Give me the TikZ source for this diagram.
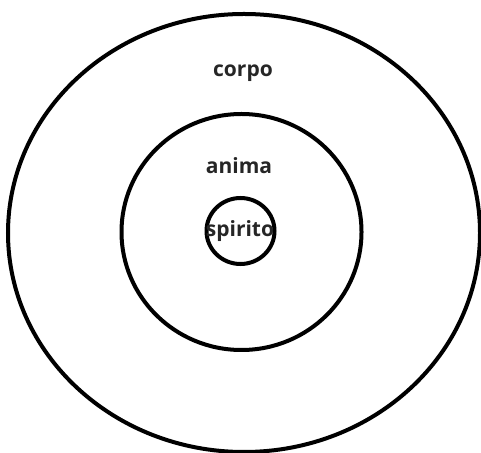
\documentclass[tikz,border=0pt]{standalone}
\usepackage{fontspec}
\setmainfont{Open Sans}
\begin{document}
\begin{tikzpicture}[x=1pt,y=1pt,
  ring/.style={draw=black,line width=4pt},
  lbl/.style={font=\bfseries\fontsize{21}{25}\selectfont,text=black!85,inner sep=0pt}]
\useasboundingbox (0,0) rectangle (481,452);
\fill[white] (0,0) rectangle (481,452);
\draw[ring] (244,219) ellipse [x radius=236,y radius=219];
\draw[ring] (241.5,220) ellipse [x radius=120,y radius=118];
\draw[ring] (240.5,221) ellipse [x radius=34,y radius=33];
\node[lbl] (corpo) at (243,379) {corpo};
\node[lbl] (anima) at (239,286) {anima};
\node[lbl] (spirito) at (240,221) {spirito};
\end{tikzpicture}
\end{document}
